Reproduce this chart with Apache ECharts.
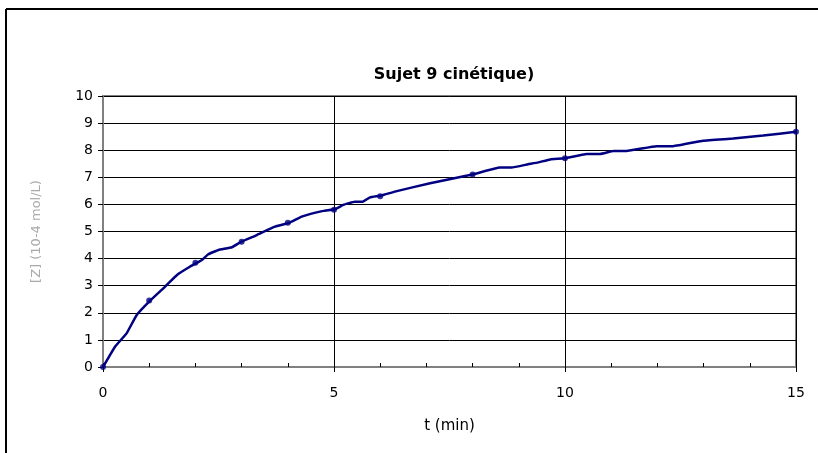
<!DOCTYPE html>
<html>
<head>
<meta charset="utf-8">
<script src="https://cdn.jsdelivr.net/npm/echarts@6/dist/echarts.min.js"></script>
<style>
  html, body { margin: 0; padding: 0; background: #fff; }
  #chart { width: 818px; height: 453px; }
</style>
</head>
<body>
<div id="chart"></div>
<script>
// Measured concentration at sampling times (markers)
const sampleTimes = [0, 1, 2, 3, 4, 5, 6, 8, 10, 15];
const sampleValues = [0, 2.45, 3.85, 4.62, 5.32, 5.8, 6.3, 7.1, 7.7, 8.68];

// Traced kinetic curve (t in min, concentration)
const curveTimes = [0, 0.26, 0.51, 0.73, 1.02, 1.34, 1.62, 1.88, 2.14, 2.28, 2.5, 2.79, 2.99, 3.33, 3.72, 4.03, 4.3, 4.77, 5.02, 5.2, 5.45, 5.62, 5.78, 6.0, 6.36, 7.08, 8.02, 8.59, 8.84, 9.2, 9.42, 9.68, 9.99, 10.47, 10.76, 11.05, 11.33, 11.98, 12.34, 12.99, 13.64, 14.29, 15.0];
const curveValues = [0, 0.75, 1.24, 1.92, 2.45, 2.96, 3.42, 3.7, 3.95, 4.16, 4.32, 4.42, 4.62, 4.87, 5.18, 5.32, 5.55, 5.76, 5.82, 5.98, 6.1, 6.1, 6.26, 6.32, 6.49, 6.78, 7.11, 7.36, 7.36, 7.48, 7.55, 7.66, 7.7, 7.86, 7.86, 7.97, 7.97, 8.15, 8.15, 8.35, 8.43, 8.54, 8.68];

const xTicks = ['0', '5', '10', '15'];
const title = 'Sujet 9 cinétique)';
const xName = 't (min)';
const yName = '[Z] (10-4 mol/L)';

const font = 'DejaVu Sans, Verdana, sans-serif';
const chart = echarts.init(document.getElementById('chart'), null, { renderer: 'canvas' });

chart.setOption({
  animation: false,
  backgroundColor: '#fff',
  title: {
    text: title,
    left: 449, top: 62, textAlign: 'center',
    textStyle: { fontFamily: font, fontSize: 16, fontWeight: 'bold', color: '#000' }
  },
  grid: {
    left: 103, right: 22, top: 96, bottom: 86,
    show: true, borderColor: '#808080', borderWidth: 2, backgroundColor: '#fff'
  },
  xAxis: [
    {
      type: 'value', min: 0, max: 15, interval: 5,
      name: xName, nameLocation: 'middle', nameGap: 52,
      nameTextStyle: { fontFamily: font, fontSize: 15, color: '#000' },
      axisLine: { show: true, lineStyle: { color: '#808080', width: 2 } },
      axisTick: { show: true, inside: false, length: 5, lineStyle: { color: '#000' } },
      axisLabel: {
        fontFamily: font, fontSize: 14, color: '#000', margin: 19,
        formatter: v => xTicks[Math.round(v / 5)] ?? ''
      },
      splitLine: { show: true, lineStyle: { color: '#000', width: 1 } }
    },
    {
      type: 'value', min: 0, max: 15, interval: 1, position: 'bottom',
      axisLine: { show: false },
      axisTick: { show: true, inside: true, length: 4, lineStyle: { color: '#000' } },
      axisLabel: { show: false },
      splitLine: { show: false }
    }
  ],
  yAxis: {
    type: 'value', min: 0, max: 10, interval: 1,
    name: yName, nameLocation: 'middle', nameGap: 60, nameRotate: 90,
    nameTextStyle: { fontFamily: font, fontSize: 13, color: '#aaa' },
    axisLine: { show: true, lineStyle: { color: '#808080', width: 2 } },
    axisTick: { show: true, inside: false, length: 5, lineStyle: { color: '#000' } },
    axisLabel: { fontFamily: font, fontSize: 14, color: '#000', margin: 10 },
    splitLine: { show: true, lineStyle: { color: '#000', width: 1 } }
  },
  series: [
    {
      type: 'line',
      data: curveTimes.map((t, i) => [t, curveValues[i]]),
      showSymbol: false,
      smooth: 0.1,
      lineStyle: { color: '#000080', width: 2.5 },
      z: 3
    },
    {
      type: 'scatter',
      data: sampleTimes.map((t, i) => [t, sampleValues[i]]),
      symbol: 'circle', symbolSize: 6,
      itemStyle: { color: '#000080' },
      z: 4
    }
  ],
  graphic: [
    { type: 'line', shape: { x1: 6, y1: 9, x2: 818, y2: 9 }, style: { stroke: '#000', lineWidth: 2 } },
    { type: 'line', shape: { x1: 6, y1: 9, x2: 6, y2: 453 }, style: { stroke: '#000', lineWidth: 2 } }
  ]
});
</script>
</body>
</html>
